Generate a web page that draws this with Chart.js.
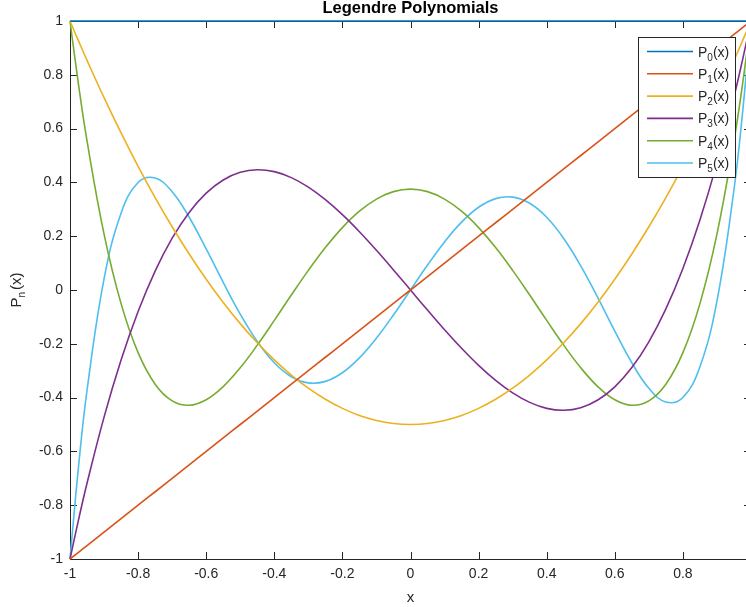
<!DOCTYPE html>
<html>
<head>
<meta charset="utf-8">
<title>Legendre Polynomials</title>
<script src="https://cdn.jsdelivr.net/npm/chart.js@4.4.0/dist/chart.umd.min.js"></script>
<style>
  html, body { margin: 0; padding: 0; overflow: hidden; background: #fff; }
  #wrap { width: 746px; height: 607px; overflow: hidden; }
  canvas { display: block; }
</style>
</head>
<body>
<div id="wrap"><canvas id="chart" width="751" height="607"></canvas></div>
<script>
// sample positions along x
const xValues = [-1, -0.975, -0.95, -0.9, -0.85, -0.8, -0.75, -0.7, -0.65, -0.6, -0.55, -0.5, -0.45, -0.4, -0.35, -0.3, -0.25, -0.2, -0.15, -0.1, -0.05,
    0, 0.05, 0.1, 0.15, 0.2, 0.25, 0.3, 0.35, 0.4, 0.45, 0.5, 0.55, 0.6, 0.65, 0.7, 0.75, 0.8, 0.85, 0.9, 0.95, 0.975, 1];

const p0 = [1, 1, 1, 1, 1, 1, 1, 1, 1, 1, 1, 1, 1, 1, 1, 1, 1, 1, 1, 1, 1,
    1, 1, 1, 1, 1, 1, 1, 1, 1, 1, 1, 1, 1, 1, 1, 1, 1, 1, 1, 1, 1, 1];
const p1 = [-1, -0.975, -0.95, -0.9, -0.85, -0.8, -0.75, -0.7, -0.65, -0.6, -0.55, -0.5, -0.45, -0.4, -0.35, -0.3, -0.25, -0.2, -0.15, -0.1, -0.05,
    0, 0.05, 0.1, 0.15, 0.2, 0.25, 0.3, 0.35, 0.4, 0.45, 0.5, 0.55, 0.6, 0.65, 0.7, 0.75, 0.8, 0.85, 0.9, 0.95, 0.975, 1];
const p2 = [1, 0.9259, 0.8538, 0.715, 0.5838, 0.46, 0.3438, 0.235, 0.1338, 0.04, -0.0463, -0.125, -0.1963, -0.26, -0.3163, -0.365, -0.4063, -0.44, -0.4663, -0.485, -0.4963,
    -0.5, -0.4963, -0.485, -0.4663, -0.44, -0.4063, -0.365, -0.3163, -0.26, -0.1963, -0.125, -0.0463, 0.04, 0.1338, 0.235, 0.3438, 0.46, 0.5838, 0.715, 0.8538, 0.9259, 1];
const p3 = [-1, -0.8546, -0.7184, -0.4725, -0.2603, -0.08, 0.0703, 0.1925, 0.2884, 0.36, 0.4091, 0.4375, 0.4472, 0.44, 0.4178, 0.3825, 0.3359, 0.28, 0.2166, 0.1475, 0.0747,
    0, -0.0747, -0.1475, -0.2166, -0.28, -0.3359, -0.3825, -0.4178, -0.44, -0.4472, -0.4375, -0.4091, -0.36, -0.2884, -0.1925, -0.0703, 0.08, 0.2603, 0.4725, 0.7184, 0.8546, 1];
const p4 = [1, 0.7638, 0.5541, 0.2079, -0.0506, -0.233, -0.3501, -0.4121, -0.4284, -0.408, -0.359, -0.2891, -0.205, -0.113, -0.0187, 0.0729, 0.1577, 0.232, 0.2928, 0.3379, 0.3657,
    0.375, 0.3657, 0.3379, 0.2928, 0.232, 0.1577, 0.0729, -0.0187, -0.113, -0.205, -0.2891, -0.359, -0.408, -0.4284, -0.4121, -0.3501, -0.233, -0.0506, 0.2079, 0.5541, 0.7638, 1];
const p5 = [-1, -0.6567, -0.3727, 0.0411, 0.2857, 0.3995, 0.4164, 0.3652, 0.2705, 0.1526, 0.0282, -0.0898, -0.1917, -0.2706, -0.3225, -0.3454, -0.3397, -0.3075, -0.2523, -0.1788, -0.0927,
    0, 0.0927, 0.1788, 0.2523, 0.3075, 0.3397, 0.3454, 0.3225, 0.2706, 0.1917, 0.0898, -0.0282, -0.1526, -0.2705, -0.3652, -0.4164, -0.3995, -0.2857, -0.0411, 0.3727, 0.6567, 1];

const seriesNames = ['0', '1', '2', '3', '4', '5'];   // subscripts for P_n(x)
const seriesColors = ['#0072BD', '#D95319', '#EDB120', '#7E2F8E', '#77AC30', '#4DBEEE'];

const FONT = '"Liberation Sans", Arial, Helvetica, sans-serif';
const INK = '#262626';

function toPoints(ys) {
    return ys.map((y, i) => ({ x: xValues[i], y: y }));
}

function tickText(v) {
    return String(Math.round(v * 10) / 10);
}

// draws the matlab style box, inner ticks, title, labels and legend
const matlabAxes = {
    id: 'matlabAxes',
    beforeDatasetsDraw(chart) {
        const { ctx, chartArea: a, scales } = chart;
        ctx.save();
        ctx.strokeStyle = INK;
        ctx.lineWidth = 1;
        ctx.beginPath();
        ctx.moveTo(a.left, a.top + 0.5);
        ctx.lineTo(a.right, a.top + 0.5);
        ctx.moveTo(a.right - 0.5, a.top);
        ctx.lineTo(a.right - 0.5, a.bottom);
        scales.x.ticks.forEach(t => {
            const px = Math.round(scales.x.getPixelForValue(t.value)) + 0.5;
            ctx.moveTo(px, a.bottom);
            ctx.lineTo(px, a.bottom - 7);
            ctx.moveTo(px, a.top);
            ctx.lineTo(px, a.top + 7);
        });
        scales.y.ticks.forEach(t => {
            const py = Math.round(scales.y.getPixelForValue(t.value)) + 0.5;
            ctx.moveTo(a.left, py);
            ctx.lineTo(a.left + 7, py);
            ctx.moveTo(a.right, py);
            ctx.lineTo(a.right - 7, py);
        });
        ctx.stroke();
        ctx.restore();
    },
    afterDatasetsDraw(chart) {
        const ctx = chart.ctx;
        ctx.save();
        // legend box
        ctx.fillStyle = '#fff';
        ctx.fillRect(638, 37, 97, 140);
        ctx.strokeStyle = INK;
        ctx.lineWidth = 1;
        ctx.strokeRect(638.5, 37.5, 97, 140);
        chart.data.datasets.forEach((ds, i) => {
            const y = 51.5 + i * 22.3;
            ctx.strokeStyle = ds.borderColor;
            ctx.lineWidth = 1.6;
            ctx.beginPath();
            ctx.moveTo(647, y);
            ctx.lineTo(693, y);
            ctx.stroke();
            ctx.fillStyle = INK;
            ctx.textBaseline = 'alphabetic';
            ctx.textAlign = 'left';
            ctx.font = '14px ' + FONT;
            ctx.fillText('P', 698, y + 5);
            let x = 698 + ctx.measureText('P').width;
            ctx.font = '10px ' + FONT;
            ctx.fillText(seriesNames[i], x, y + 9);
            x += ctx.measureText(seriesNames[i]).width;
            ctx.font = '14px ' + FONT;
            ctx.fillText('(x)', x, y + 5);
        });
        ctx.restore();
    },
    afterDraw(chart) {
        const { ctx, chartArea: a } = chart;
        const cx = (a.left + a.right) / 2;
        ctx.save();
        ctx.fillStyle = '#000';
        ctx.textAlign = 'center';
        ctx.textBaseline = 'alphabetic';
        ctx.font = 'bold 16.5px ' + FONT;
        ctx.fillText('Legendre Polynomials', cx, 13);

        ctx.fillStyle = INK;
        ctx.font = '15px ' + FONT;
        ctx.fillText('x', cx, 602);

        // y axis label, rotated: P_n(x)
        ctx.translate(21, 290);
        ctx.rotate(-Math.PI / 2);
        ctx.textAlign = 'left';
        const wP = ctx.measureText('P').width;
        const wX = ctx.measureText('(x)').width;
        ctx.font = '10px ' + FONT;
        const wN = ctx.measureText('n').width;
        const total = wP + wN + 2 + wX;
        let x = -total / 2;
        ctx.font = '15px ' + FONT;
        ctx.fillText('P', x, 0);
        x += wP;
        ctx.font = '10px ' + FONT;
        ctx.fillText('n', x, 4);
        x += wN + 2;
        ctx.font = '15px ' + FONT;
        ctx.fillText('(x)', x, 0);
        ctx.restore();
    }
};

const series = [p0, p1, p2, p3, p4, p5];

const ctx = document.getElementById('chart').getContext('2d');
new Chart(ctx, {
    type: 'line',
    data: {
        datasets: series.map((ys, i) => ({
            label: 'P' + seriesNames[i] + '(x)',
            data: toPoints(ys),
            borderColor: seriesColors[i],
            backgroundColor: seriesColors[i],
            borderWidth: 1.6,
            pointRadius: 0,
            fill: false,
            tension: 0.4,
            clip: false,
        })),
    },
    options: {
        responsive: false,
        animation: false,
        layout: { padding: { top: 21, left: 0, right: 0, bottom: 0 } },
        plugins: {
            legend: { display: false },
            title: { display: false },
            tooltip: { enabled: false },
        },
        scales: {
            x: {
                type: 'linear',
                min: -1,
                max: 1,
                grid: { display: false, drawTicks: false },
                border: { display: true, color: INK, width: 1 },
                ticks: {
                    stepSize: 0.2,
                    padding: 7,
                    color: INK,
                    font: { family: FONT, size: 14 },
                    maxRotation: 0,
                    autoSkip: false,
                    callback: tickText,
                },
                afterFit: s => { s.height = 48; s.paddingLeft = 0; s.paddingRight = 0; },
            },
            y: {
                type: 'linear',
                min: -1,
                max: 1,
                grid: { display: false, drawTicks: false },
                border: { display: true, color: INK, width: 1 },
                ticks: {
                    stepSize: 0.2,
                    padding: 7,
                    color: INK,
                    font: { family: FONT, size: 14 },
                    autoSkip: false,
                    callback: tickText,
                },
                afterFit: s => { s.width = 70; s.paddingTop = 0; s.paddingBottom = 0; },
            },
        },
    },
    plugins: [matlabAxes],
});
</script>
</body>
</html>
